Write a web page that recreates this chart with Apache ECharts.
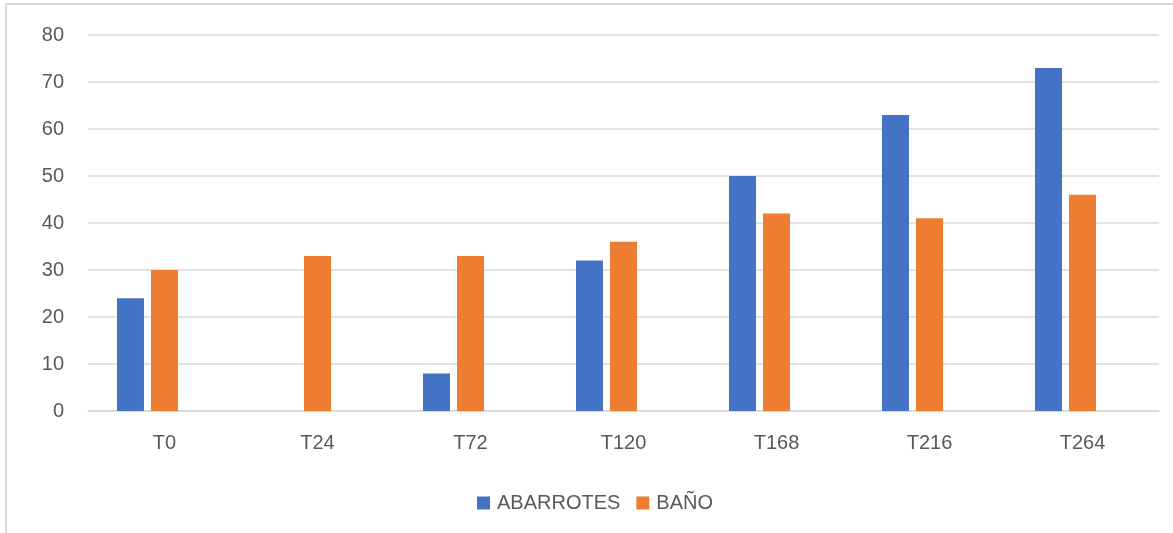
<!DOCTYPE html>
<html>
<head>
<meta charset="utf-8">
<script src="https://cdn.jsdelivr.net/npm/echarts@6/dist/echarts.min.js"></script>
<style>
  html, body { margin: 0; padding: 0; background: #ffffff; }
  #chart { width: 1173px; height: 533px; }
</style>
</head>
<body>
<div id="chart"></div>
<script>
// Categories and measured values
const categories = ['T0', 'T24', 'T72', 'T120', 'T168', 'T216', 'T264'];
const abarrotes = [24, null, 8, 32, 50, 63, 73];
const bano = [30, 33, 33, 36, 42, 41, 46];
// Third slot of each cluster is reserved but left empty
const reserved = [null, null, null, null, null, null, null];
const yTicks = { min: 0, max: 80, interval: 10 };

const textColor = '#595959';
const gridColor = '#d9d9d9';
const fontFamily = '"Liberation Sans", Arial, sans-serif';

const chart = echarts.init(document.getElementById('chart'), null, { renderer: 'canvas' });

chart.setOption({
  animation: false,
  backgroundColor: '#ffffff',
  textStyle: { fontFamily: fontFamily },
  graphic: [{
    type: 'rect',
    shape: { x: 6, y: 4, width: 1200, height: 600 },
    style: { fill: 'none', stroke: gridColor, lineWidth: 2 },
    silent: true
  }],
  grid: { left: 88, right: 14, top: 35, bottom: 122, containLabel: false },
  legend: {
    data: ['ABARROTES', 'BAÑO'],
    left: 472,
    top: 488,
    icon: 'rect',
    itemWidth: 13,
    itemHeight: 13,
    itemGap: 16,
    textStyle: { color: textColor, fontSize: 20, fontFamily: fontFamily, padding: [0, 0, 0, 2] }
  },
  xAxis: {
    type: 'category',
    data: categories,
    axisLine: { show: true, lineStyle: { color: gridColor, width: 1.5 } },
    axisTick: { show: false },
    axisLabel: { color: textColor, fontSize: 20, margin: 22, fontFamily: fontFamily }
  },
  yAxis: {
    type: 'value',
    min: yTicks.min,
    max: yTicks.max,
    interval: yTicks.interval,
    axisLine: { show: false },
    axisTick: { show: false },
    axisLabel: { color: textColor, fontSize: 20, margin: 24, fontFamily: fontFamily },
    splitLine: { lineStyle: { color: gridColor, width: 1.5 } }
  },
  series: [
    {
      name: 'ABARROTES',
      type: 'bar',
      data: abarrotes,
      barWidth: 27,
      barGap: '26%',
      itemStyle: { color: '#4472C4' }
    },
    {
      name: 'BAÑO',
      type: 'bar',
      data: bano,
      barWidth: 27,
      barGap: '26%',
      itemStyle: { color: '#ED7D31' }
    },
    {
      name: 'reserved',
      type: 'bar',
      data: reserved,
      barWidth: 27,
      barGap: '26%',
      itemStyle: { color: '#A5A5A5' }
    }
  ]
});
</script>
</body>
</html>
